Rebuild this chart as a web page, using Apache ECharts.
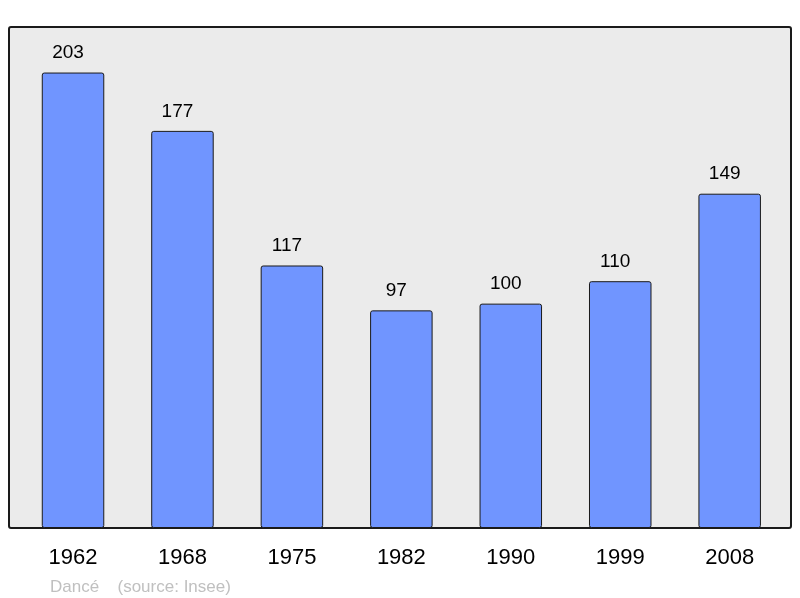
<!DOCTYPE html>
<html>
<head>
<meta charset="utf-8">
<script src="https://cdn.jsdelivr.net/npm/echarts@6/dist/echarts.min.js"></script>
<style>
html,body{margin:0;padding:0;background:#fff;}
#chart{width:800px;height:598px;}
</style>
</head>
<body>
<div id="chart"></div>
<script>
const categories = ['1962', '1968', '1975', '1982', '1990', '1999', '2008'];
const population = [203, 177, 117, 97, 100, 110, 149];
const yMax = 223.3;
const commune = 'Dancé';
const sourceText = '(source: Insee)';

const chart = echarts.init(document.getElementById('chart'), null, {renderer: 'canvas'});
const font = '"Liberation Sans", Arial, sans-serif';
chart.setOption({
  animation: false,
  backgroundColor: '#ffffff',
  grid: {left: 18.3, right: 15.6, top: 27, bottom: 70, containLabel: false},
  xAxis: {
    type: 'category',
    data: categories,
    axisLine: {show: false},
    axisTick: {show: false},
    axisLabel: {fontSize: 22, color: '#000', fontFamily: font, margin: 19}
  },
  yAxis: {
    type: 'value', min: 0, max: yMax, show: false,
    splitLine: {show: false}
  },
  graphic: [
    {
      type: 'rect', z: -10,
      shape: {x: 9, y: 27, width: 782, height: 501, r: 2},
      style: {fill: '#ebebeb', stroke: '#1a1a1a', lineWidth: 2}
    },
    {
      type: 'text', left: 50, top: 579,
      style: {text: commune, fontSize: 17, fill: '#c0c0c0', fontFamily: font}
    },
    {
      type: 'text', left: 117.5, top: 579,
      style: {text: sourceText, fontSize: 17, fill: '#c0c0c0', fontFamily: font}
    }
  ],
  series: [{
    type: 'bar',
    data: population,
    barWidth: 62.5,
    itemStyle: {color: '#7095ff', borderColor: '#1a1a1a', borderWidth: 1, borderRadius: 2},
    label: {show: true, position: 'top', distance: 10, offset: [-5, 0], fontSize: 19, color: '#000', fontFamily: font}
  }]
});
</script>
</body>
</html>
